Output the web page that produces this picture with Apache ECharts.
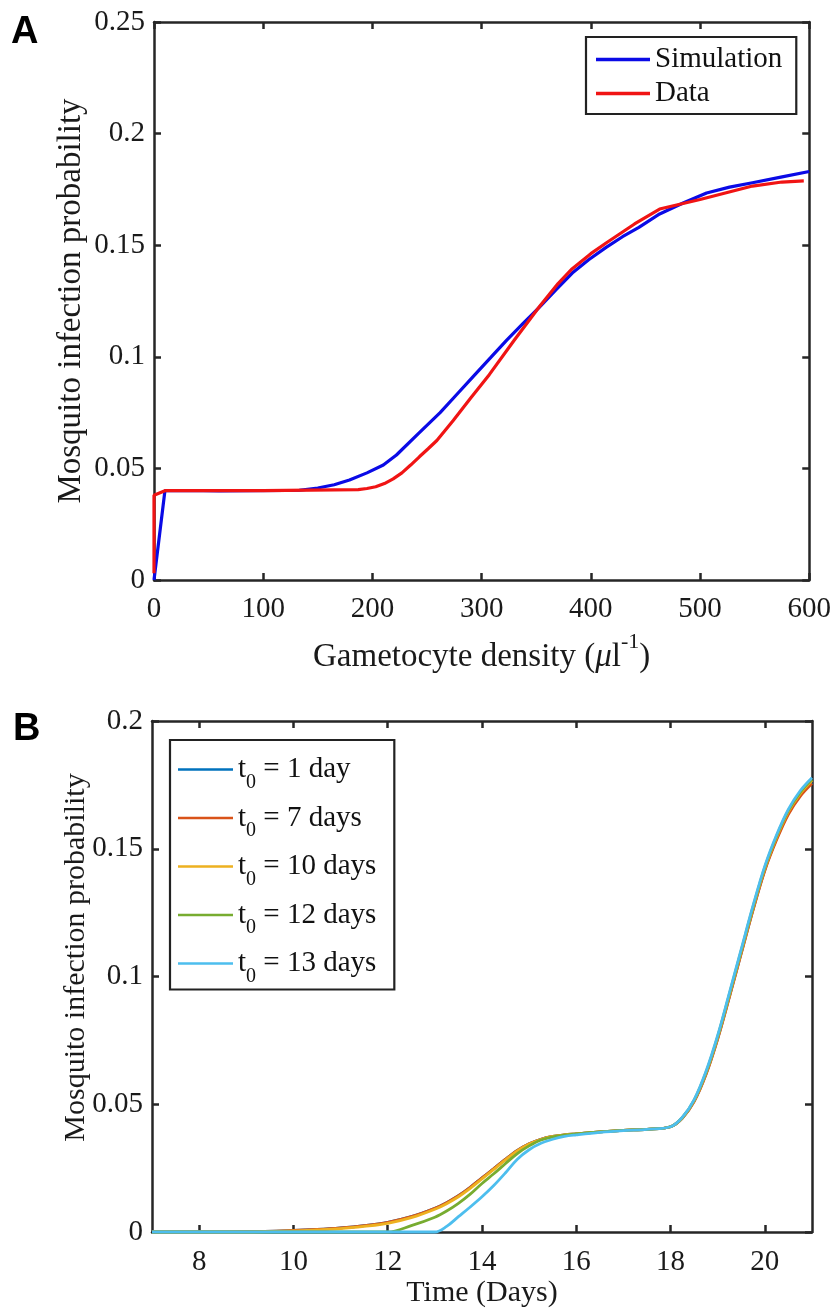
<!DOCTYPE html>
<html><head><meta charset="utf-8">
<script src="https://cdn.jsdelivr.net/npm/echarts@6/dist/echarts.min.js"></script>
<style>html,body{margin:0;padding:0;background:#fff}#c{width:834px;height:1309px}</style>
</head><body><div id="c"></div>
<script>
// ---------- Panel A data ----------
var simX = [0,10,30,60,90,120,133,150,165,179,195,210,222,243,262,277,292,308,323,338,353,368,383,398,414,429,444,463,485,506,527,548,574,600];
var simY = [0,0.040,0.0401,0.0399,0.0400,0.0401,0.0402,0.0412,0.0427,0.0448,0.048,0.0515,0.056,0.066,0.075,0.083,0.091,0.0995,0.1075,0.115,0.1223,0.130,0.1375,0.1435,0.149,0.1538,0.158,0.164,0.1690,0.1734,0.1760,0.178,0.1805,0.183];
var dataX = [0,0,10,100,187,195,203,211,219,227,235,243,251,259,274,290,307,330,353,370,383,400,414,440,463,500,548,575,595];
var dataY = [0.003,0.038,0.040,0.040,0.0405,0.041,0.0418,0.0432,0.0453,0.048,0.0515,0.0552,0.0588,0.0625,0.0715,0.0815,0.092,0.1075,0.1225,0.1328,0.1395,0.1462,0.151,0.1595,0.1662,0.1705,0.1765,0.1783,0.1788];
var legendA = ['Simulation','Data'];
var xTicksA = [0,100,200,300,400,500,600];

// ---------- Panel B data ----------
var xB = [7,8,9,10,10.5,11,11.5,12,12.5,13,13.25,13.5,13.75,14,14.25,14.5,14.75,15,15.25,15.5,15.75,16,16.5,17,17.5,18,18.25,18.5,18.75,19,19.25,19.5,19.75,20,20.25,20.5,20.75,21];
var yT1  = [0,0,0.0001,0.0006,0.001,0.0016,0.0025,0.0038,0.006,0.0093,0.0115,0.0142,0.0175,0.0212,0.0248,0.0285,0.0319,0.0345,0.0363,0.0374,0.0380,0.0384,0.0392,0.0398,0.0402,0.0412,0.0446,0.0512,0.0618,0.0758,0.0923,0.1093,0.1263,0.1418,0.1540,0.1640,0.1710,0.1760];
var yT7  = [0,0,0.0001,0.0006,0.001,0.0016,0.0025,0.0038,0.006,0.0093,0.0115,0.0142,0.0175,0.0212,0.0248,0.0285,0.0319,0.0345,0.0363,0.0374,0.0380,0.0384,0.0392,0.0398,0.0402,0.0412,0.0445,0.051,0.0615,0.0755,0.092,0.109,0.126,0.1415,0.1535,0.1635,0.1705,0.1755];
var yT10 = [0,0,0,0.0004,0.0008,0.0013,0.0022,0.0034,0.0056,0.0089,0.0111,0.0138,0.0171,0.0208,0.0245,0.0282,0.0317,0.0344,0.0362,0.0374,0.0380,0.0384,0.0392,0.0398,0.0402,0.0412,0.0447,0.0514,0.0621,0.0762,0.0928,0.1098,0.1268,0.1423,0.1545,0.1645,0.1716,0.1767];
var yT12 = [0,0,0,0,0,0,0,0,0.0025,0.0058,0.0082,0.0112,0.0148,0.019,0.0228,0.0268,0.0307,0.0337,0.036,0.0372,0.0379,0.0384,0.0392,0.0398,0.0402,0.0412,0.0448,0.0516,0.0624,0.0766,0.0933,0.1103,0.1273,0.1428,0.155,0.165,0.1721,0.1772];
var yT13 = [0,0,0,0,0,0,0,0,0,0,0.0022,0.006,0.0098,0.0138,0.0182,0.0232,0.0285,0.0322,0.0347,0.0363,0.0374,0.038,0.039,0.0397,0.0402,0.0412,0.0449,0.0518,0.0628,0.077,0.0938,0.1108,0.1278,0.1433,0.1555,0.1655,0.1727,0.1778];
var legendB = ['1 day','7 days','10 days','12 days','13 days'];
var xTicksB = [8,10,12,14,16,18,20];

var SERIF = 'Liberation Serif';
var AX = '#262626';
var TXT = '#1a1a1a';

function pairs(xs, ys){ return xs.map(function(x,i){ return [x, ys[i]]; }); }

function xAx(grid, pos, min, max, interval, ticks, show, margin, name, fs, nameFs, nameGap, rich){
  return {
    type:'value', gridIndex:grid, position:pos, min:min, max:max, interval:interval,
    axisLine:{show:true, onZero:false, lineStyle:{color:AX, width:2.5}},
    axisTick:{show:true, inside:true, length:7, lineStyle:{color:AX, width:2.5}, customValues: ticks},
    axisLabel:{show:show, customValues: ticks, fontFamily:SERIF, fontSize:fs||29, color:TXT, margin:margin||12},
    splitLine:{show:false},
    name: name || '', nameLocation:'middle', nameGap:nameGap||0, nameMoveOverlap:false,
    nameTextStyle:{fontFamily:SERIF, fontSize:nameFs||30, color:TXT, rich: rich || {}}
  };
}
function yAx(grid, pos, min, max, interval, show, name, fs, nameFs, nameGap, pad){
  return {
    type:'value', gridIndex:grid, position:pos, min:min, max:max, interval:interval,
    axisLine:{show:true, onZero:false, lineStyle:{color:AX, width:2.5}},
    axisTick:{show:true, inside:true, length:7, lineStyle:{color:AX, width:2.5}},
    axisLabel:{show:show, fontFamily:SERIF, fontSize:fs||29, color:TXT, margin:9},
    splitLine:{show:false},
    name: name || '', nameLocation:'middle', nameGap:nameGap||0, nameMoveOverlap:false,
    nameTextStyle:{fontFamily:SERIF, fontSize:nameFs||30, color:TXT, padding: pad || 0}
  };
}

var colorsB = ['#0072BD','#D95319','#EDB120','#77AC30','#4DBEEE'];
var ysB = [yT1, yT7, yT10, yT12, yT13];

var seriesB = legendB.map(function(lab, i){
  return {
    type:'line', name:'t0 = ' + lab, xAxisIndex:2, yAxisIndex:2,
    data: pairs(xB, ysB[i]), symbol:'none', showSymbol:false, smooth:0.35, clip:false,
    lineStyle:{color:colorsB[i], width:2.8}, itemStyle:{color:colorsB[i]}, z:3+i
  };
});

var option = {
  animation:false,
  backgroundColor:'#fff',
  grid:[
    {left:154, top:22, width:656, height:558},
    {left:152, top:721, width:660, height:511}
  ],
  xAxis:[
    xAx(0,'bottom',0,600,100,xTicksA,true,15,'{a|Gametocyte density (}{m|μ}{a|l}{s|-1}{a|)}',29,33,51,
        {a:{fontFamily:SERIF,fontSize:33,color:TXT},
         m:{fontFamily:SERIF,fontSize:33,fontStyle:'italic',color:TXT},
         s:{fontFamily:SERIF,fontSize:22,color:TXT,padding:[0,0,30,0]}}),
    xAx(0,'top',0,600,100,xTicksA,false),
    xAx(1,'bottom',7,21,1,xTicksB,true,16,'Time (Days)',29,30,46),
    xAx(1,'top',7,21,1,xTicksB,false)
  ],
  yAxis:[
    yAx(0,'left',0,0.25,0.05,true,'Mosquito infection probability',29,33,66),
    yAx(0,'right',0,0.25,0.05,false),
    yAx(1,'left',0,0.2,0.05,true,'Mosquito infection probability',29,30,61,[0,0,0,38]),
    yAx(1,'right',0,0.2,0.05,false)
  ],
  legend:[
    {
      data:legendA.map(function(n){ return {name:n, icon:'rect'}; }),
      orient:'vertical', left:586, top:37,
      padding:[8,14,6,10], itemGap:5, itemWidth:54, itemHeight:3.5,
      borderColor:'#222', borderWidth:2.2, backgroundColor:'#fff',
      textStyle:{fontFamily:SERIF, fontSize:29, color:'#111'}
    },
    {
      data:seriesB.map(function(s){ return {name:s.name, icon:'rect'}; }),
      orient:'vertical', left:170, top:740,
      padding:[15,18,3,8], itemGap:11, itemWidth:55, itemHeight:2.6,
      borderColor:'#222', borderWidth:2.2, backgroundColor:'#fff',
      formatter:function(n){ return '{t|t}{s|0}{t| = ' + n.slice(5) + '}'; },
      textStyle:{fontFamily:SERIF, fontSize:29, color:'#111',
        rich:{ t:{fontFamily:SERIF,fontSize:29,color:'#111'},
               s:{fontFamily:SERIF,fontSize:20,color:'#111',padding:[26,0,0,0]} } }
    }
  ],
  graphic:[
    {type:'text', left:11, top:14, style:{text:'A', font:'bold 38px "Liberation Sans"', fill:'#000'}},
    {type:'text', left:13, top:711, style:{text:'B', font:'bold 38px "Liberation Sans"', fill:'#000'}}
  ],
  series:[
    {type:'line', name:legendA[0], xAxisIndex:0, yAxisIndex:0, data:pairs(simX, simY), symbol:'none', showSymbol:false,
     smooth:false, clip:false, lineStyle:{color:'#0a0ae6', width:3.2}, itemStyle:{color:'#0a0ae6'}, z:3},
    {type:'line', name:legendA[1], xAxisIndex:0, yAxisIndex:0, data:pairs(dataX, dataY), symbol:'none', showSymbol:false,
     smooth:false, clip:false, lineStyle:{color:'#f01414', width:3.2}, itemStyle:{color:'#f01414'}, z:4}
  ].concat(seriesB)
};

var chart = echarts.init(document.getElementById('c'), null, {renderer:'canvas'});
chart.setOption(option);
</script></body></html>
